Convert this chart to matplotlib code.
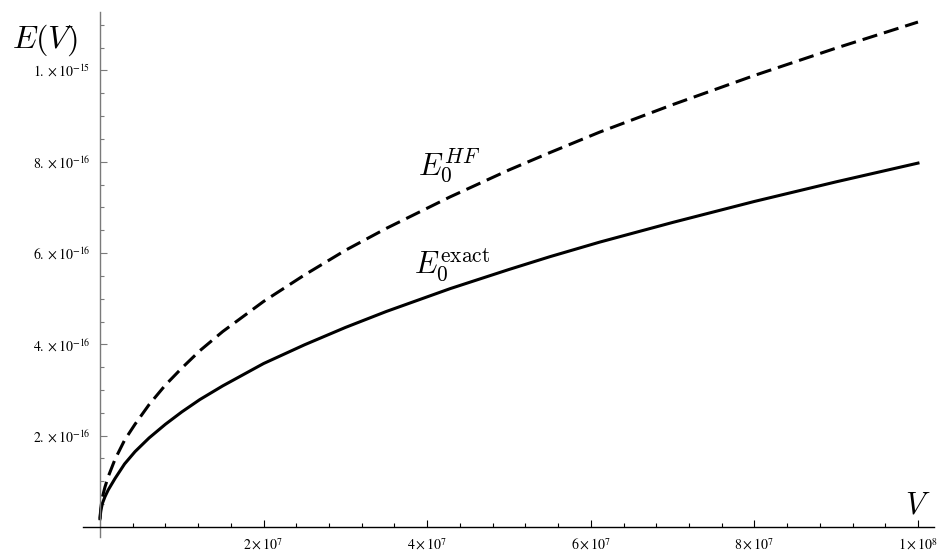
import matplotlib
matplotlib.use('Agg')
import matplotlib.pyplot as plt
from matplotlib.ticker import FixedLocator, FixedFormatter

# V in units of 1e6, E in units of 1e-16
v_exact = [0, 0.1, 0.3, 0.6, 1.0, 1.83, 3, 4.28, 6, 8, 10, 12.2, 15, 20, 25, 30, 35,
           42.8, 50, 55, 61.1, 70, 80, 90, 100]
e_exact = [0.18, 0.36, 0.52, 0.66, 0.81, 1.06, 1.38, 1.65, 1.95, 2.25, 2.52, 2.79, 3.09,
           3.58, 3.99, 4.37, 4.72, 5.22, 5.64, 5.92, 6.24, 6.67, 7.13, 7.56, 7.97]

v_hf = [0, 0.1, 0.3, 0.6, 1.0, 1.83, 3, 4.28, 6, 8, 10, 12.2, 15, 20, 25, 30, 35,
        42.8, 50, 55, 61.1, 70, 80, 90, 100]
e_hf = [0.18, 0.42, 0.66, 0.87, 1.10, 1.48, 1.90, 2.25, 2.68, 3.11, 3.48, 3.86, 4.28,
        4.94, 5.52, 6.06, 6.54, 7.23, 7.82, 8.20, 8.65, 9.25, 9.89, 10.49, 11.06]

x_ticks = [2e7, 4e7, 6e7, 8e7, 1e8]
x_labels = [r'$2\times10^{7}$', r'$4\times10^{7}$', r'$6\times10^{7}$',
            r'$8\times10^{7}$', r'$1\times10^{8}$']
y_ticks = [2e-16, 4e-16, 6e-16, 8e-16, 1e-15]
y_labels = [r'$2.\times10^{-16}$', r'$4.\times10^{-16}$', r'$6.\times10^{-16}$',
            r'$8.\times10^{-16}$', r'$1.\times10^{-15}$']

plt.rcParams['font.family'] = ['Liberation Serif', 'DejaVu Serif']
plt.rcParams['mathtext.fontset'] = 'stix'

fig = plt.figure(figsize=(9.4, 5.53), dpi=100)
ax = fig.add_axes([83 / 940, 16 / 553, 851 / 940, 525 / 553])

ax.plot([v * 1e6 for v in v_hf], [e * 1e-16 for e in e_hf], color='black',
        lw=2.2, dashes=(5, 2.3), dash_capstyle='butt')
ax.plot([v * 1e6 for v in v_exact], [e * 1e-16 for e in e_exact], color='black', lw=2.2)

ax.set_xlim(-2.08e6, 1.0196e8)
ax.set_ylim(-2.2e-17, 1.128e-15)

# Mathematica-style axes through the origin
for s in ['top', 'right']:
    ax.spines[s].set_visible(False)
ax.spines['left'].set_position(('data', 0))
ax.spines['bottom'].set_position(('data', 0))
ax.spines['left'].set_color('#7a7a7a')
ax.spines['bottom'].set_color('black')
ax.spines['left'].set_linewidth(1.0)
ax.spines['bottom'].set_linewidth(1.0)

ax.xaxis.set_major_locator(FixedLocator(x_ticks))
ax.xaxis.set_major_formatter(FixedFormatter(x_labels))
ax.xaxis.set_minor_locator(FixedLocator([i * 4e6 for i in range(1, 26) if i % 5 != 0]))
ax.yaxis.set_major_locator(FixedLocator(y_ticks))
ax.yaxis.set_major_formatter(FixedFormatter(y_labels))
ax.yaxis.set_minor_locator(FixedLocator([i * 0.5e-16 for i in range(1, 23) if i % 4 != 0]))

ax.tick_params(axis='x', which='major', direction='in', length=5, width=0.8, color='black',
               labelsize=10, pad=7)
ax.tick_params(axis='x', which='minor', direction='in', length=3, width=0.8, color='black')
ax.tick_params(axis='y', which='major', direction='in', length=5, width=0.8, color='#7a7a7a',
               labelsize=10, pad=7)
ax.tick_params(axis='y', which='minor', direction='in', length=3, width=0.8, color='#7a7a7a')

# axis labels
fig.text(12 / 940, 1 - 40 / 553, r'$E(V)$', fontsize=23, math_fontfamily='cm',
         ha='left', va='center')
ax.text(1.0e8, 0.45e-16, r'$V$', fontsize=22, math_fontfamily='cm', ha='center', va='center')

# curve labels
ax.text(4.27e7, 0.791e-15, r'$E_0^{HF}$', fontsize=22, math_fontfamily='cm',
        ha='center', va='center')
ax.text(4.3e7, 0.574e-15, r'$E_0^{\mathrm{exact}}$', fontsize=22, math_fontfamily='cm',
        ha='center', va='center')

fig.savefig('out.png', dpi=100)
